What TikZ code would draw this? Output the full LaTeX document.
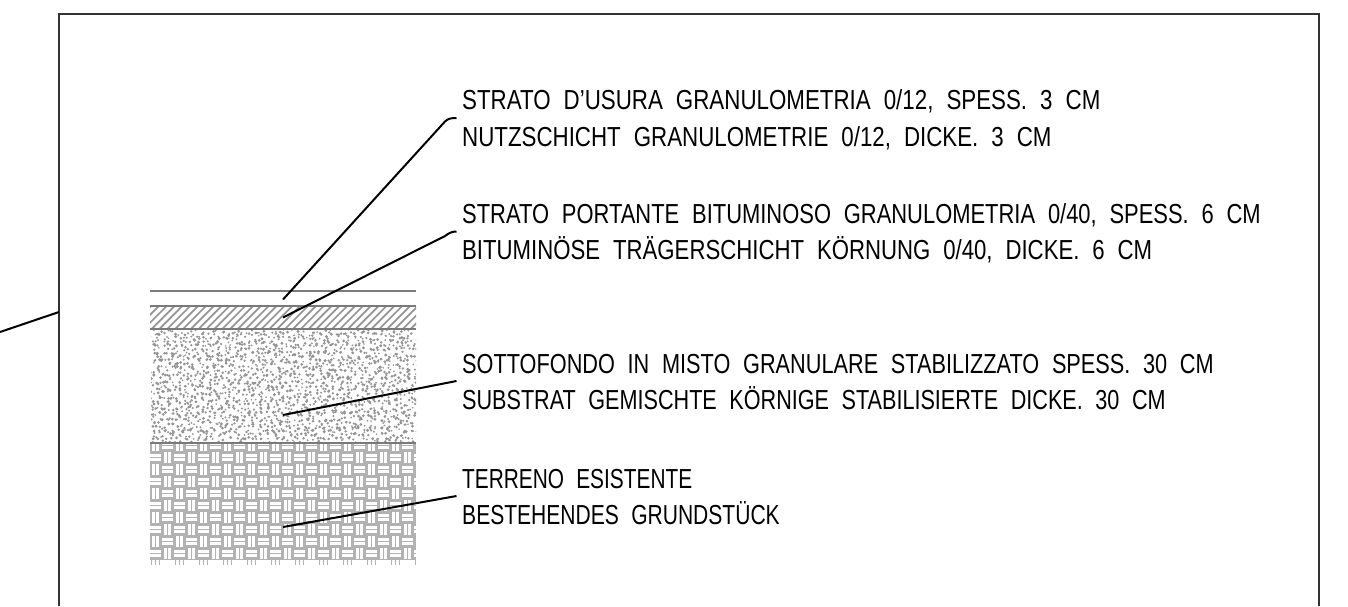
\documentclass[tikz,border=0pt]{standalone}
\usepackage{fontspec}
\setmainfont[FakeStretch=0.80,WordSpace=2.1]{Liberation Sans}
\newcommand{\linefit}[2]{\scalebox{#1}[1]{#2}}
\tikzset{
  x=1pt,y=-1pt,
  frameline/.style={draw=black!80,line width=2pt},
  leader/.style={draw=black,line width=2pt,line join=round},
  layerline/.style={draw=black!52,line width=2pt},
  hatchline/.style={draw=black!42,line width=1.7pt},
  weavebase/.style={fill=black!30},
  weavegap/.style={draw=white,line width=2.3pt},
  weavebar/.style={draw=black!30,line width=1.8pt},
  dotfill/.style={fill=black!42},
  label/.style={anchor=base west,inner sep=0pt,font=\fontsize{27.5}{27.5}\selectfont,text=black}
}
\begin{document}
\begin{tikzpicture}
\useasboundingbox (0,0) rectangle (1348,606);
\fill[white] (0,0) rectangle (1348,606);
% frame
\coordinate (fbl) at (59,606); \coordinate (ftl) at (59,14);
\coordinate (ftr) at (1319,14); \coordinate (fbr) at (1319,606);
\draw[frameline] (fbl) -- (ftl) -- (ftr) -- (fbr);
\coordinate (outer) at (0,332); \coordinate (fjoin) at (59,312);
\draw[leader] (outer) -- (fjoin);
% stipple
\begin{scope}
\clip (151,330) rectangle (416,442);
\pgfmathsetseed{4711}
\foreach \i in {0,...,69}{
  \foreach \j in {0,...,29}{
    \pgfmathsetmacro{\px}{150+3.8*(\i+1.6*rnd-0.3)}
    \pgfmathsetmacro{\py}{330+3.74*(\j+1.6*rnd-0.3)}
    \pgfmathsetmacro{\pr}{0.9+0.7*rnd}
    \fill[dotfill] (\px,\py) circle[radius=\pr pt];
  }
}
\end{scope}
% hatch
\begin{scope}
\clip (150,306) rectangle (416,329);
\foreach \k in {0,...,50}{
  \draw[hatchline] ({128+\k*7.85},329) -- ({128+\k*7.85+23},306);
}
\end{scope}
% weave
\begin{scope}
\clip (150,443) rectangle (416,559.5);
\fill[weavebase] (150,443) rectangle (416,559.5);
\foreach \i in {0,...,24}{
  \foreach \j in {1,...,10}{
    \pgfmathsetmacro{\cx}{137.5+12*\i}
    \pgfmathsetmacro{\cy}{427.5+12*\j}
    \pgfmathtruncatemacro{\cellodd}{mod(\i+\j,2)}
    \ifnum\cellodd=0
      \foreach \oo in {4,8}{
        \draw[weavegap] ({\cx+\oo},{\cy+0.6}) -- ({\cx+\oo},{\cy+11.4});
      }
    \else
      \foreach \oo in {4,8}{
        \draw[weavegap] ({\cx+0.6},{\cy+\oo}) -- ({\cx+11.4},{\cy+\oo});
      }
    \fi
  }
}
\end{scope}
\begin{scope}
\clip (150,559) rectangle (416,565);
\foreach \i in {1,3,...,23}{
  \foreach \oo in {2,6,10}{
    \draw[weavebar] ({137.5+12*\i+\oo},559) -- ({137.5+12*\i+\oo},565);
  }
}
\end{scope}
% layer lines
\draw[layerline] (150,291) -- (416,291);
\draw[layerline] (150,306) -- (416,306);
\draw[layerline] (150,329) -- (416,329);
\draw[layerline] (150,442.5) -- (416,442.5);
% labels
\node[label] (t1) at (462,109.5) {\linefit{1.015}{STRATO D’USURA GRANULOMETRIA 0/12, SPESS. 3 CM}};
\node[label] (t2) at (462,146) {\linefit{1.014}{NUTZSCHICHT GRANULOMETRIE 0/12, DICKE. 3 CM}};
\node[label] (t3) at (462,223) {\linefit{0.997}{STRATO PORTANTE BITUMINOSO GRANULOMETRIA 0/40, SPESS. 6 CM}};
\node[label] (t4) at (462,259.5) {\linefit{1.008}{BITUMINÖSE TRÄGERSCHICHT KÖRNUNG 0/40, DICKE. 6 CM}};
\node[label] (t5) at (462,373.5) {\linefit{0.987}{SOTTOFONDO IN MISTO GRANULARE STABILIZZATO SPESS. 30 CM}};
\node[label] (t6) at (462,409.5) {\linefit{0.982}{SUBSTRAT GEMISCHTE KÖRNIGE STABILISIERTE DICKE. 30 CM}};
\node[label] (t7) at (462,488.5) {\linefit{0.948}{TERRENO ESISTENTE}};
\node[label] (t8) at (462,524.5) {\linefit{0.957}{BESTEHENDES GRUNDSTÜCK}};
% leaders
\coordinate (a1) at (283,299.5); \coordinate (b1) at (456.5,118);
\coordinate (a2) at (283,317.5); \coordinate (b2) at (456.5,231.5);
\coordinate (a3) at (283,415); \coordinate (b3) at (456.5,381);
\coordinate (a4) at (283,527); \coordinate (b4) at (456.5,496);
\draw[leader] (a1) -- (445,121.5) .. controls (448,118.5) and (451,118) .. (b1);
\draw[leader] (a2) -- (445,236) .. controls (449,233) and (452,231.5) .. (b2);
\draw[leader] (a3) -- (b3);
\draw[leader] (a4) -- (b4);
\end{tikzpicture}
\end{document}
